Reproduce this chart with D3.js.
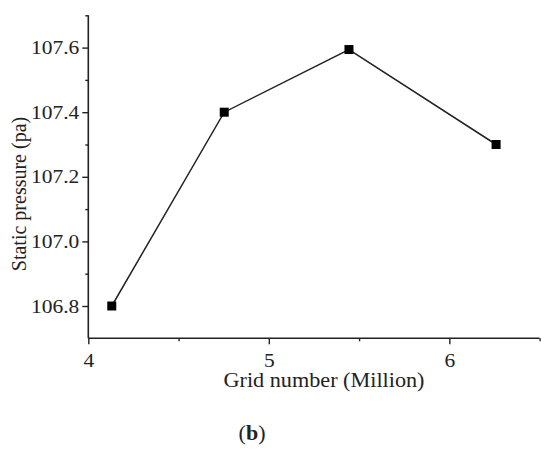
<!DOCTYPE html>
<html><head><meta charset="utf-8">
<script src="https://cdn.jsdelivr.net/npm/d3@7"></script>
<style>body{margin:0;background:#fff}svg{display:block}text{font-family:"Liberation Serif","Times New Roman",serif;fill:#222}</style>
</head><body>
<script>
const gridNumbers = [4.13, 4.753, 5.444, 6.259];
const staticPressure = [106.8, 107.4, 107.594, 107.3];
const xTicks = [4, 5, 6];
const yTicks = [106.8, 107.0, 107.2, 107.4, 107.6];
const xMinorTicks = [4.5, 5.5, 6.5];
const yMinorTicks = [106.9, 107.1, 107.3, 107.5, 107.7];
const xTitle = "Grid number (Million)";
const yTitle = "Static pressure (pa)";
const caption = "b";

const W = 550, H = 450;
const svg = d3.select("body").append("svg").attr("width", W).attr("height", H);
const x = d3.scaleLinear().domain([4, 6.5]).range([88.3, 539.6]);
const y = d3.scaleLinear().domain([106.7, 107.7]).range([338.3, 15.3]);

const xAxis = svg.append("g").attr("transform", `translate(0,${y(106.7)})`)
  .call(d3.axisBottom(x).tickValues(xTicks).tickFormat(d3.format("d")).tickSize(6).tickPadding(9));
svg.append("g").attr("transform", `translate(0,${y(106.7)})`)
  .call(d3.axisBottom(x).tickValues(xMinorTicks).tickFormat("").tickSize(3)).select(".domain").remove();
const yAxis = svg.append("g").attr("transform", `translate(${x(4)},0)`)
  .call(d3.axisLeft(y).tickValues(yTicks).tickFormat(d3.format(".1f")).tickSize(6).tickPadding(3));
svg.append("g").attr("transform", `translate(${x(4)},0)`)
  .call(d3.axisLeft(y).tickValues(yMinorTicks).tickFormat("").tickSize(3)).select(".domain").remove();

svg.selectAll(".domain").attr("stroke", "#222").attr("stroke-width", 1.6);
svg.selectAll(".tick line").attr("stroke", "#222").attr("stroke-width", 1.4);
svg.selectAll(".tick text").attr("font-size", 19).attr("font-family", '"Liberation Serif", serif').attr("fill", "#222");
xAxis.selectAll(".domain").attr("d", `M${x(4)},0H${x(6.5)}`);
yAxis.selectAll(".domain").attr("d", `M0,${y(106.7)}V${y(107.7)}`);
// horizontal stretch as in the reference
function stretch(sel, f) {
  sel.each(function () {
    const L = this.getComputedTextLength();
    d3.select(this).attr("textLength", L * f).attr("lengthAdjust", "spacingAndGlyphs");
  });
}
stretch(yAxis.selectAll(".tick text"), 1.13);
stretch(xAxis.selectAll(".tick text"), 1.13);

const pts = gridNumbers.map((g, i) => [g, staticPressure[i]]);
svg.append("path").datum(pts)
  .attr("fill", "none").attr("stroke", "#222").attr("stroke-width", 1.5)
  .attr("d", d3.line().x(d => x(d[0])).y(d => y(d[1])));
svg.selectAll("rect.mk").data(pts).enter().append("rect").attr("class", "mk")
  .attr("x", d => x(d[0]) - 4.5).attr("y", d => y(d[1]) - 4.5)
  .attr("width", 9).attr("height", 9).attr("fill", "#000");

const xt = svg.append("text").attr("x", 324).attr("y", 387).attr("text-anchor", "middle")
  .attr("font-size", 20).text(xTitle);
stretch(xt, 1.11);
svg.append("text").attr("transform", "translate(26,194) rotate(-90)").attr("text-anchor", "middle")
  .attr("font-size", 20).text(yTitle);
const cap = svg.append("text").attr("x", 252).attr("y", 440).attr("text-anchor", "middle").attr("font-size", 22);
cap.append("tspan").text("(");
cap.append("tspan").attr("font-weight", "bold").text(caption);
cap.append("tspan").text(")");
</script>
</body></html>
